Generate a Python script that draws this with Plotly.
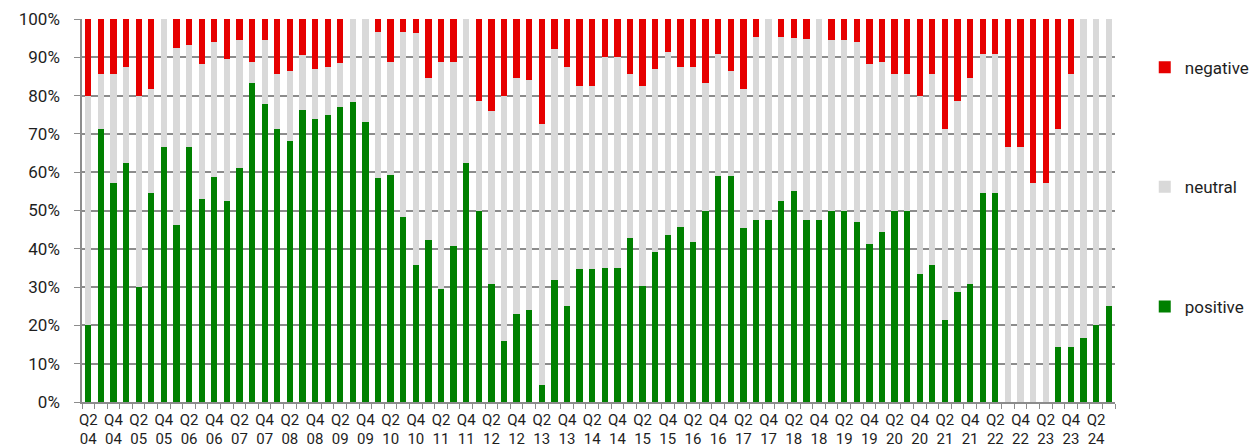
import plotly.graph_objects as go

quarters = []
for yr in range(4, 25):
    for q in range(1, 5):
        if (yr == 4 and q == 1) or (yr == 24 and q == 4):
            continue
        quarters.append(f"Q{q}<br>{yr:02d}")

positive = [20.0, 71.4, 57.1, 62.5, 30.0, 54.5, 66.7, 46.2, 66.7, 52.9,
            58.8, 52.6, 61.1, 83.3, 77.8, 71.4, 68.2, 76.2, 73.9, 75.0,
            76.9, 78.3, 73.1, 58.6, 59.3, 48.3, 35.7, 42.3, 29.6, 40.7,
            62.5, 50.0, 30.8, 16.0, 23.1, 24.0, 4.5, 31.8, 25.0, 34.8,
            34.8, 35.0, 35.0, 42.9, 30.4, 39.1, 43.5, 45.8, 41.7, 50.0,
            59.1, 59.1, 45.5, 47.6, 47.6, 52.4, 55.0, 47.4, 47.4, 50.0,
            50.0, 47.1, 41.2, 44.4, 50.0, 50.0, 33.3, 35.7, 21.4, 28.6,
            30.8, 54.5, 54.5, 0.0, 0.0, 0.0, 0.0, 14.3, 14.3, 16.7,
            20.0, 25.0]
negative = [20.0, 14.3, 14.3, 12.5, 20.0, 18.2, 0.0, 7.7, 6.7, 11.8,
            5.9, 10.5, 5.6, 11.1, 5.6, 14.3, 13.6, 9.5, 13.0, 12.5,
            11.5, 0.0, 0.0, 3.4, 11.1, 3.4, 3.6, 15.4, 11.1, 11.1,
            0.0, 21.4, 24.0, 20.0, 15.4, 16.0, 27.3, 7.9, 12.5, 17.4,
            17.4, 10.0, 10.0, 14.3, 17.4, 13.0, 8.7, 12.5, 12.5, 16.7,
            9.1, 13.6, 18.2, 4.8, 0.0, 4.8, 5.0, 5.3, 0.0, 5.6,
            5.6, 5.9, 11.8, 11.1, 14.3, 14.3, 20.0, 14.3, 28.6, 21.4,
            15.4, 9.1, 9.1, 33.3, 33.3, 42.9, 42.9, 28.6, 14.3, 0.0,
            0.0, 0.0]
neutral = [round(100 - p - n, 1) for p, n in zip(positive, negative)]

FONT = "Roboto"
TXT = "#1e1e1e"
GRID = "#8c8c8c"

fig = go.Figure()
series = [("positive", positive, "#008000", 3),
          ("neutral", neutral, "#d9d9d9", 2),
          ("negative", negative, "#e60000", 1)]
for name, vals, col, rank in series:
    fig.add_trace(go.Bar(x=quarters, y=vals, name=name, marker_color=col,
                         marker_line_width=0, legendgroup=name,
                         legendrank=rank))

fig.update_layout(
    barmode="stack", bargap=0.5,
    width=1258, height=448,
    margin=dict(l=82, r=143, t=19, b=46, autoexpand=False),
    plot_bgcolor="white", paper_bgcolor="white",
    font=dict(family=FONT, size=15, color=TXT),
    legend=dict(x=1.0288, xanchor="left", y=0.92, yanchor="top",
                traceorder="grouped", tracegroupgap=94.5,
                font=dict(size=17, color=TXT)),
    xaxis=dict(type="category", tickmode="linear", tick0=0, dtick=1,
               ticklabelstep=2, tickson="boundaries", ticks="outside",
               ticklen=5, tickcolor=GRID, showline=True, linecolor=GRID,
               linewidth=1.5, showgrid=False, tickangle=0, automargin=False,
               ticklabelstandoff=3,
               tickfont=dict(size=15, color=TXT)),
    yaxis=dict(range=[0, 100], dtick=10, ticksuffix="%", showline=True,
               linecolor=GRID, linewidth=1.5, gridcolor=GRID, gridwidth=1.5,
               ticks="outside", ticklen=6, tickcolor=GRID, automargin=False,
               ticklabelstandoff=11,
               tickfont=dict(size=17, color=TXT), zeroline=False),
)

fig.write_html("out.html",
               config={"displayModeBar": False},
               post_script="document.body.style.margin='0';"
                           "document.body.style.overflow='hidden';")
